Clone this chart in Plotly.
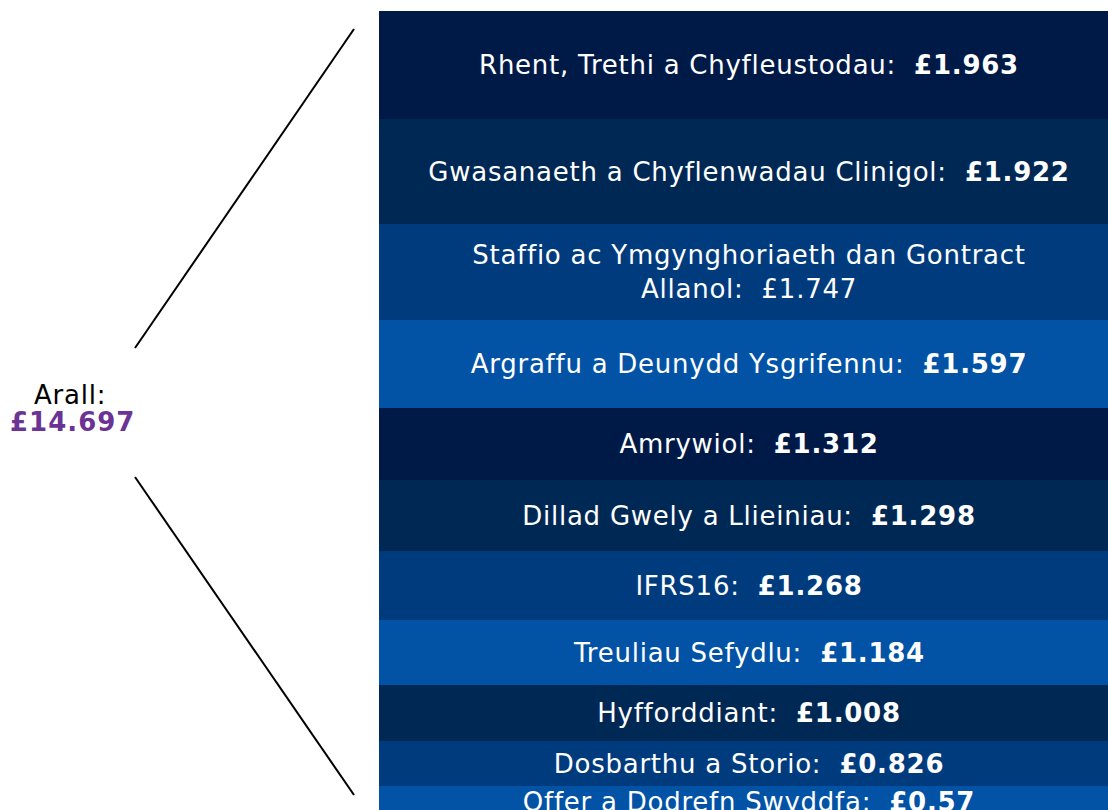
import plotly.graph_objects as go

categories = [
    "Rhent, Trethi a Chyfleustodau",
    "Gwasanaeth a Chyflenwadau Clinigol",
    "Staffio ac Ymgynghoriaeth dan Gontract Allanol",
    "Argraffu a Deunydd Ysgrifennu",
    "Amrywiol",
    "Dillad Gwely a Llieiniau",
    "IFRS16",
    "Treuliau Sefydlu",
    "Hyfforddiant",
    "Dosbarthu a Storio",
    "Offer a Dodrefn Swyddfa",
]
values = [1.963, 1.922, 1.747, 1.597, 1.312, 1.298, 1.268, 1.184, 1.008, 0.826, 0.57]
value_labels = ["£1.963", "£1.922", "£1.747", "£1.597", "£1.312", "£1.298",
                "£1.268", "£1.184", "£1.008", "£0.826", "£0.57"]
other_label = "Arall:"
other_value = "£14.697"

C1, C2, C3, C4 = "#001a48", "#002855", "#003c7d", "#0253a5"
colors = [C1, C2, C3, C4, C1, C2, C3, C4, C2, C3, C4]

LS = "letter-spacing:0.75px"

fig = go.Figure()
for cat, val, lab, col in zip(categories, values, value_labels, colors):
    if cat.startswith("Staffio"):
        txt = (f"<span style='{LS}'>Staffio ac Ymgynghoriaeth dan Gontract</span><br>"
               f"<span style='{LS}'>Allanol:  {lab}</span>")
    else:
        txt = f"<span style='{LS}'>{cat}:  <b>{lab}</b></span>"
    fig.add_trace(go.Bar(
        x=[0], y=[val], width=1, name=cat,
        marker=dict(color=col, line=dict(width=0)),
        text=[txt], textposition="inside", insidetextanchor="middle",
        textangle=0, constraintext="none",
        textfont=dict(family="DejaVu Sans", size=26, color="white"),
        hoverinfo="skip",
    ))

px_per_unit = 54.87
top_px = 11
H, W = 810, 1108
y_bottom = (H - top_px) / px_per_unit
y_top = -top_px / px_per_unit

bar_left_px, bar_w_px = 379, 740
x0 = -0.5 - bar_left_px / bar_w_px
x1 = x0 + W / bar_w_px

fig.update_layout(
    barmode="stack",
    width=W, height=H,
    margin=dict(l=0, r=0, t=0, b=0),
    paper_bgcolor="white", plot_bgcolor="white",
    showlegend=False,
    bargap=0,
    xaxis=dict(range=[x0, x1], visible=False, fixedrange=True),
    yaxis=dict(range=[y_bottom, y_top], visible=False, fixedrange=True),
    annotations=[
        dict(xref="paper", yref="paper", x=70 / W, y=1 - 395 / H,
             xanchor="center", yanchor="middle",
             text=f"<span style='letter-spacing:0.8px'>{other_label}</span>",
             showarrow=False,
             font=dict(family="DejaVu Sans", size=26, color="black")),
        dict(xref="paper", yref="paper", x=72 / W, y=1 - 422 / H,
             xanchor="center", yanchor="middle",
             text=f"<b><span style='letter-spacing:1px'>{other_value}</span></b>",
             showarrow=False,
             font=dict(family="DejaVu Sans", size=26, color="#6b3393")),
    ],
    shapes=[
        dict(type="line", xref="paper", yref="paper",
             x0=354 / W, y0=1 - 29 / H, x1=135 / W, y1=1 - 348 / H,
             line=dict(color="black", width=2)),
        dict(type="line", xref="paper", yref="paper",
             x0=135 / W, y0=1 - 477 / H, x1=354 / W, y1=1 - 795 / H,
             line=dict(color="black", width=2)),
    ],
)

fig.write_html("out.html", config={"displayModeBar": False},
               post_script="document.body.style.margin='0';")
